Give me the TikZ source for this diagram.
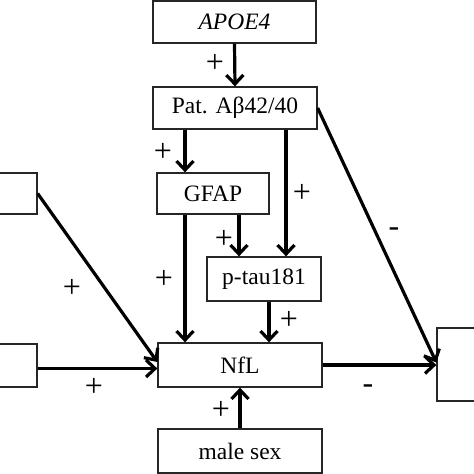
\documentclass[tikz,border=0pt]{standalone}
\usepackage{fontspec}
\setmainfont{Liberation Serif}
\usetikzlibrary{arrows.meta}
\begin{document}
\begin{tikzpicture}[x=1pt,y=-1pt,
  box/.style={draw=black!85,line width=1.3pt,inner sep=0pt,font=\fontsize{23.5}{27}\selectfont},
  arr/.style={line width=3.2pt,-{Straight Barb[length=9pt,width=17pt,line width=3.2pt]}},
  lab/.style={font=\fontsize{32}{36}\selectfont,inner sep=0pt}]
\useasboundingbox (0,0) rectangle (474,474);
\begin{scope}
\clip (0,0) rectangle (474,474);
\node[box,minimum width=163pt,minimum height=42pt] (apoe) at (234.5,22) {\itshape APOE4};
\node[box,minimum width=164pt,minimum height=42pt] (pat) at (235,108) {Pat. Aβ42/40};
\node[box,minimum width=112pt,minimum height=41pt] (gfap) at (213,193.5) {GFAP};
\node[box,minimum width=114pt,minimum height=44pt] (ptau) at (264,279) {p-tau181};
\node[box,minimum width=164pt,minimum height=44pt] (nfl) at (240,365) {NfL};
\node[box,minimum width=164pt,minimum height=44pt] (male) at (240,451) {male sex};
\node[box,minimum width=41pt,minimum height=41pt] (left1) at (16.5,193.5) {};
\node[box,minimum width=41pt,minimum height=43pt] (left2) at (16.5,365.5) {};
\node[box,minimum width=41pt,minimum height=73pt] (right) at (457.5,364.5) {};
\coordinate (xA) at (185,0);
\coordinate (xB) at (286,0);
\coordinate (xC) at (239,0);
\coordinate (xD) at (269,0);
\draw[arr] (apoe.south) -- (pat.north);
\draw[arr] (pat.south -| xA) -- (gfap.north -| xA);
\draw[arr] (pat.south -| xB) -- (ptau.north -| xB);
\draw[arr] (gfap.south -| xC) -- (ptau.north -| xC);
\draw[arr] (gfap.south -| xA) -- (nfl.north -| xA);
\draw[arr] (ptau.south -| xD) -- (nfl.north -| xD);
\draw[arr] (male.north) -- (nfl.south);
\draw[arr] (left1.east) -- ([yshift=3pt]nfl.west);
\draw[arr] ([yshift=-3pt]left2.east) -- ([yshift=-3pt]left2.east -| nfl.west);
\draw[arr] (nfl.east) -- (nfl.east -| right.west);
\draw[arr] (pat.east) -- ([yshift=2pt]right.west);
\node[lab] (p1) at (215,63) {+};
\node[lab] (p2) at (163,152) {+};
\node[lab] (p3) at (302,193) {+};
\node[lab] (p4) at (224,239) {+};
\node[lab] (p5) at (164,279) {+};
\node[lab] (p6) at (289,320) {+};
\node[lab] (p7) at (72,288) {+};
\node[lab] (p8) at (94,387) {+};
\node[lab] (p9) at (221,410) {+};
\node[lab] (m1) at (394,232) {-};
\node[lab] (m2) at (368,389) {-};
\end{scope}
\end{tikzpicture}
\end{document}
